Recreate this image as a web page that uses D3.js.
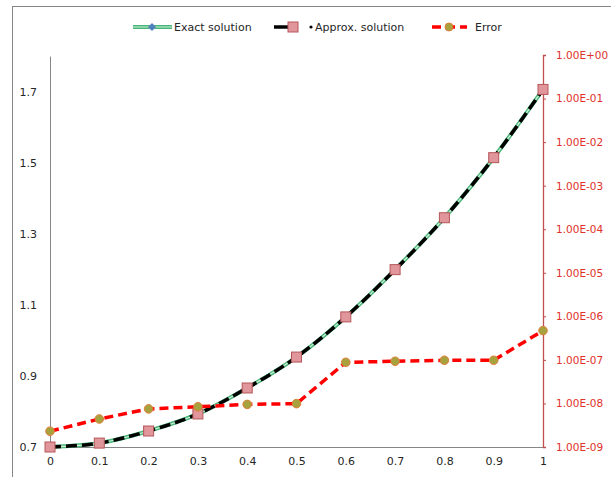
<!DOCTYPE html>
<html>
<head>
<meta charset="utf-8">
<script src="https://cdn.jsdelivr.net/npm/d3@7"></script>
<style>
  html, body { margin: 0; padding: 0; background: #fff; }
  svg text { font-family: "DejaVu Sans", Verdana, sans-serif; }
</style>
</head>
<body>
<svg id="chart" width="611" height="477"></svg>
<script>
// data
var xValues = [0, 0.1, 0.2, 0.3, 0.4, 0.5, 0.6, 0.7, 0.8, 0.9, 1];
var exactValues = [0.7, 0.711, 0.745, 0.793, 0.866, 0.953, 1.066, 1.199, 1.345, 1.514, 1.706];
var approxValues = [0.7, 0.711, 0.745, 0.793, 0.866, 0.953, 1.066, 1.199, 1.345, 1.514, 1.706];
var errorValues = [2.3e-9, 4.4e-9, 7.5e-9, 8.4e-9, 9.5e-9, 9.9e-9, 8.8e-8, 9.3e-8, 9.8e-8, 9.8e-8, 4.7e-7];
var xTicks = [0, 0.1, 0.2, 0.3, 0.4, 0.5, 0.6, 0.7, 0.8, 0.9, 1];
var leftTicks = [0.7, 0.9, 1.1, 1.3, 1.5, 1.7];
var rightTicks = [1e-9, 1e-8, 1e-7, 1e-6, 1e-5, 1e-4, 1e-3, 1e-2, 1e-1, 1];
var seriesNames = ["Exact solution", "Approx. solution", "Error"];

var pL = 50, pR = 543, pT = 55, pB = 447;
var svg = d3.select("#chart");

// outer chart frame
svg.append("rect")
    .attr("x", 12.5).attr("y", 6.5)
    .attr("width", 640).attr("height", 520)
    .attr("fill", "none")
    .attr("stroke", "#868686");

var x = d3.scaleLinear().domain([0, 1]).range([pL, pR]);
var yL = d3.scaleLinear().domain([0.7, 1.8]).range([pB, pT + 1]);
var yR = d3.scaleLog().domain([1e-9, 1]).range([pB, pT]);

// x axis
var xAxis = svg.append("g")
    .attr("transform", "translate(0," + pB + ")")
    .call(d3.axisBottom(x).tickValues(xTicks).tickSize(0).tickPadding(10)
        .tickFormat(function (d) { return d3.format("")(d); }));
xAxis.select(".domain").attr("stroke", "#868686");
xAxis.selectAll("text").attr("fill", "#262626").style("font-size", "11px");

// left axis
var lAxis = svg.append("g")
    .attr("transform", "translate(" + pL + ",0)")
    .call(d3.axisLeft(yL).tickValues(leftTicks).tickSize(0).tickPadding(13)
        .tickFormat(d3.format(".1f")));
lAxis.select(".domain").attr("stroke", "#868686");
lAxis.selectAll("text").attr("fill", "#262626").style("font-size", "11px");

// right axis (log)
var rAxis = svg.append("g")
    .attr("transform", "translate(" + pR + ",0)")
    .call(d3.axisRight(yR).tickValues(rightTicks).tickSizeInner(3).tickSizeOuter(3).tickPadding(10)
        .tickFormat(function (d) {
            var e = Math.round(Math.log10(d));
            var s = e < 0 ? "-" : "+";
            var a = Math.abs(e);
            return "1.00E" + s + (a < 10 ? "0" : "") + a;
        }));
rAxis.select(".domain").attr("stroke", "#c0504d").attr("stroke-width", 1.3);
rAxis.selectAll("line").attr("stroke", "#c0504d");
rAxis.selectAll("text").attr("fill", "#e0312b").style("font-size", "10.5px");

var idx = d3.range(xValues.length);

var lineL = function (vals) {
    return d3.line().curve(d3.curveMonotoneX)
        .x(function (i) { return x(xValues[i]); })
        .y(function (i) { return yL(vals[i]); });
};

// exact solution: green double line
svg.append("path").datum(idx)
    .attr("d", lineL(exactValues))
    .attr("fill", "none").attr("stroke", "#4cb57a").attr("stroke-width", 4);
svg.append("path").datum(idx)
    .attr("d", lineL(exactValues))
    .attr("fill", "none").attr("stroke", "#cdf2da").attr("stroke-width", 1.2);

// approx solution: black dashed
svg.append("path").datum(idx)
    .attr("d", lineL(approxValues))
    .attr("fill", "none").attr("stroke", "#000").attr("stroke-width", 3.5)
    .attr("stroke-dasharray", "11,5");

// error: red dashed on log axis
svg.append("path").datum(idx)
    .attr("d", d3.line()
        .x(function (i) { return x(xValues[i]); })
        .y(function (i) { return yR(errorValues[i]); }))
    .attr("fill", "none").attr("stroke", "#ff0000").attr("stroke-width", 3.5)
    .attr("stroke-dasharray", "9,5");

// markers
svg.selectAll(".sq").data(idx).enter().append("rect")
    .attr("x", function (i) { return x(xValues[i]) - 5; })
    .attr("y", function (i) { return yL(approxValues[i]) - 5; })
    .attr("width", 10).attr("height", 10)
    .attr("fill", "#e0969a").attr("stroke", "#b5575a").attr("stroke-width", 1);

svg.selectAll(".ci").data(idx).enter().append("circle")
    .attr("cx", function (i) { return x(xValues[i]); })
    .attr("cy", function (i) { return yR(errorValues[i]); })
    .attr("r", 4.3)
    .attr("fill", "#a8a23e").attr("stroke", "#e0803a").attr("stroke-width", 1);

// legend
var lg = svg.append("g").attr("transform", "translate(0,27)");
lg.append("line").attr("x1", 133).attr("x2", 172).attr("y1", 0).attr("y2", 0)
    .attr("stroke", "#4cb57a").attr("stroke-width", 4);
lg.append("line").attr("x1", 133).attr("x2", 172).attr("y1", 0).attr("y2", 0)
    .attr("stroke", "#cdf2da").attr("stroke-width", 1.2);
lg.append("path").attr("d", "M152,-4L156,0L152,4L148,0Z").attr("fill", "#4f81bd");
lg.append("text").attr("x", 174).attr("y", 4).style("font-size", "11px")
    .attr("fill", "#262626").text(seriesNames[0]);

lg.append("line").attr("x1", 274).attr("x2", 298).attr("y1", 0).attr("y2", 0)
    .attr("stroke", "#000").attr("stroke-width", 3.5);
lg.append("rect").attr("x", 288).attr("y", -5).attr("width", 10).attr("height", 10)
    .attr("fill", "#e0969a").attr("stroke", "#b5575a");
lg.append("circle").attr("cx", 311).attr("cy", 0).attr("r", 1.6).attr("fill", "#000");
lg.append("text").attr("x", 315).attr("y", 4).style("font-size", "11px")
    .attr("fill", "#262626").text(seriesNames[1]);

lg.append("line").attr("x1", 432).attr("x2", 467).attr("y1", 0).attr("y2", 0)
    .attr("stroke", "#ff0000").attr("stroke-width", 3.5).attr("stroke-dasharray", "9,5");
lg.append("circle").attr("cx", 449).attr("cy", 0).attr("r", 4)
    .attr("fill", "#a8a23e").attr("stroke", "#e0803a");
lg.append("text").attr("x", 475).attr("y", 4).style("font-size", "11px")
    .attr("fill", "#262626").text(seriesNames[2]);
</script>
</body>
</html>
